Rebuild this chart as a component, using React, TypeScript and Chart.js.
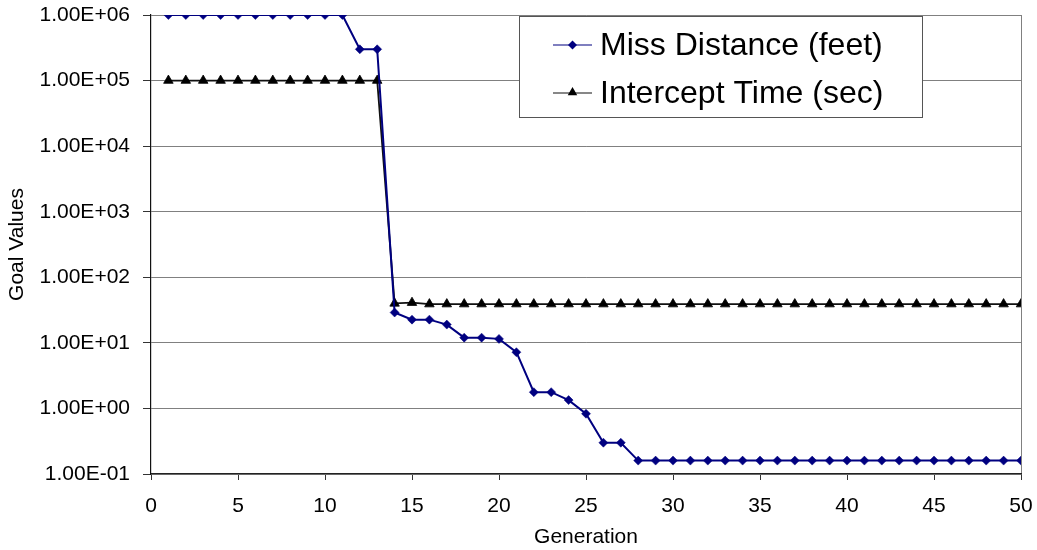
import React, { useEffect, useRef } from 'react';
import { Chart, registerables } from 'chart.js';

Chart.register(...registerables);

const generations = [
  1, 2, 3, 4, 5, 6, 7, 8, 9, 10, 11, 12, 13, 14, 15, 16, 17, 18, 19, 20, 21, 22, 23, 24, 25,
  26, 27, 28, 29, 30, 31, 32, 33, 34, 35, 36, 37, 38, 39, 40, 41, 42, 43, 44, 45, 46, 47, 48, 49, 50,
];

const missDistance = [
  1e6, 1e6, 1e6, 1e6, 1e6, 1e6, 1e6, 1e6, 1e6, 1e6, 1e6, 3e5, 3e5,
  29, 22.6, 22.6, 19, 12, 12, 11.5, 7.2, 1.77, 1.77, 1.34, 0.83, 0.3, 0.3,
  0.16, 0.16, 0.16, 0.16, 0.16, 0.16, 0.16, 0.16, 0.16, 0.16, 0.16, 0.16,
  0.16, 0.16, 0.16, 0.16, 0.16, 0.16, 0.16, 0.16, 0.16, 0.16, 0.16, 0.16,
];

const interceptTime = [
  1e5, 1e5, 1e5, 1e5, 1e5, 1e5, 1e5, 1e5, 1e5, 1e5, 1e5, 1e5, 1e5,
  40, 41, 39, 39, 39, 39, 39, 39, 39, 39, 39, 39, 39, 39, 39, 39, 39, 39, 39,
  39, 39, 39, 39, 39, 39, 39, 39, 39, 39, 39, 39, 39, 39, 39, 39, 39, 39,
];

const seriesLabels = ['Miss Distance (feet)', 'Intercept Time (sec)'];
const yTickValues = [0.1, 1, 10, 100, 1000, 10000, 100000, 1000000];
const xMin = 0;
const xMax = 50;
const xStep = 5;
const xTitle = 'Generation';
const yTitle = 'Goal Values';

const FONT = '"Liberation Sans", Arial, Helvetica, sans-serif';
const NAVY = '#000080';

function fmtSci(v: number): string {
  const e = Math.floor(Math.log10(v) + 1e-9);
  const m = v / Math.pow(10, e);
  return m.toFixed(2) + 'E' + (e < 0 ? '-' : '+') + String(Math.abs(e)).padStart(2, '0');
}

function drawDiamond(ctx: CanvasRenderingContext2D, x: number, y: number, r: number, color: string) {
  ctx.beginPath();
  ctx.moveTo(x, y - r);
  ctx.lineTo(x + r, y);
  ctx.lineTo(x, y + r);
  ctx.lineTo(x - r, y);
  ctx.closePath();
  ctx.fillStyle = color;
  ctx.fill();
}

function drawTriangle(ctx: CanvasRenderingContext2D, x: number, y: number, r: number, color: string) {
  ctx.beginPath();
  ctx.moveTo(x, y - r);
  ctx.lineTo(x + r * 0.866, y + r * 0.5);
  ctx.lineTo(x - r * 0.866, y + r * 0.5);
  ctx.closePath();
  ctx.fillStyle = color;
  ctx.fill();
}

const insideLegend = {
  id: 'insideLegend',
  afterDraw(chart: any) {
    const { ctx, chartArea } = chart;
    const left = chartArea.left + 368;
    const top = chartArea.top + 1;
    const w = 403;
    const h = 101;
    ctx.save();
    ctx.fillStyle = '#ffffff';
    ctx.fillRect(left, top, w, h);
    ctx.strokeStyle = '#555555';
    ctx.lineWidth = 1;
    ctx.strokeRect(left + 0.5, top + 0.5, w, h);
    const rows = [top + 29, top + 77];
    chart.data.datasets.forEach((ds: any, i: number) => {
      const y = rows[i];
      ctx.strokeStyle = ds.borderColor;
      ctx.lineWidth = 1.2;
      ctx.beginPath();
      ctx.moveTo(left + 34, y);
      ctx.lineTo(left + 73, y);
      ctx.stroke();
      if (ds.pointStyle === 'rectRot') drawDiamond(ctx, left + 53.5, y, 4.5, ds.backgroundColor);
      else drawTriangle(ctx, left + 53.5, y - 0.5, 5.5, ds.backgroundColor);
      ctx.fillStyle = '#000';
      ctx.font = `32px ${FONT}`;
      ctx.textAlign = 'left';
      ctx.textBaseline = 'middle';
      ctx.fillText(ds.label, left + 81, y + 1);
    });
    ctx.restore();
  },
};

function zeroPadding(s: any) {
  s.paddingTop = 0;
  s.paddingBottom = 0;
  s.paddingLeft = 0;
  s.paddingRight = 0;
}

export default function App() {
  const ref = useRef<HTMLCanvasElement | null>(null);

  useEffect(() => {
    if (!ref.current) return;
    const chart = new Chart(ref.current, {
      type: 'line',
      data: {
        datasets: [
          {
            label: seriesLabels[0],
            data: generations.map((g, i) => ({ x: g, y: missDistance[i] })),
            borderColor: NAVY,
            backgroundColor: NAVY,
            borderWidth: 2,
            pointStyle: 'rectRot',
            pointRadius: 4.5,
            pointBorderWidth: 0.5,
            pointBackgroundColor: NAVY,
            pointBorderColor: NAVY,
            tension: 0,
          },
          {
            label: seriesLabels[1],
            data: generations.map((g, i) => ({ x: g, y: interceptTime[i] })),
            borderColor: '#111111',
            backgroundColor: '#000000',
            borderWidth: 1.8,
            pointStyle: 'triangle',
            pointRadius: 5.5,
            pointBorderWidth: 0.8,
            pointBackgroundColor: '#000000',
            pointBorderColor: '#000000',
            tension: 0,
          },
        ],
      },
      options: {
        responsive: false,
        animation: false,
        layout: { padding: { top: 15, right: 16, left: 0, bottom: 0 } },
        plugins: {
          legend: { display: false },
          tooltip: { enabled: false },
        },
        scales: {
          x: {
            type: 'linear',
            min: xMin,
            max: xMax,
            ticks: {
              stepSize: xStep,
              color: '#000',
              font: { family: FONT, size: 21 },
              padding: 14,
              maxRotation: 0,
            },
            grid: {
              drawOnChartArea: true,
              color: (c: any) => (c.tick && c.tick.value === xMax ? '#808080' : 'rgba(0,0,0,0)'),
              tickColor: '#333',
              tickLength: 6,
            },
            border: { color: '#222', width: 1.2 },
            title: {
              display: true,
              text: xTitle,
              color: '#000',
              font: { family: FONT, size: 21 },
              padding: { top: 0, bottom: 0 },
            },
            afterFit: (s: any) => {
              s.height = 76;
              zeroPadding(s);
            },
          },
          y: {
            type: 'logarithmic',
            min: yTickValues[0],
            max: yTickValues[yTickValues.length - 1],
            afterBuildTicks: (s: any) => {
              s.ticks = yTickValues.map((v) => ({ value: v }));
            },
            ticks: {
              color: '#000',
              font: { family: FONT, size: 21 },
              padding: 13,
              callback: (v: any) => fmtSci(Number(v)),
            },
            grid: {
              color: '#808080',
              lineWidth: 1,
              tickColor: '#333',
              tickLength: 8,
            },
            border: { color: '#111', width: 1.2 },
            title: {
              display: true,
              text: yTitle,
              color: '#000',
              font: { family: FONT, size: 21 },
              padding: { top: 5, bottom: 0 },
            },
            afterFit: (s: any) => {
              s.width = 151;
              zeroPadding(s);
            },
          },
        },
      },
      plugins: [insideLegend],
    });
    return () => chart.destroy();
  }, []);

  return (
    <div style={{ position: 'fixed', left: 0, top: 0, width: 1037, height: 550, background: '#fff' }}>
      <canvas ref={ref} width={1037} height={550} style={{ display: 'block' }} />
    </div>
  );
}
